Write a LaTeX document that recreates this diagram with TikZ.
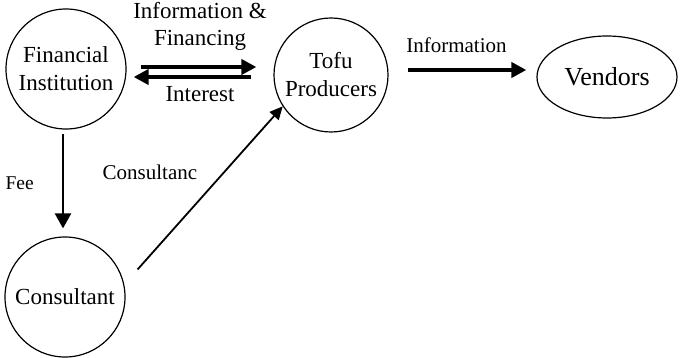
\documentclass[tikz,border=0pt]{standalone}
\usepackage{fontspec}
\setmainfont{Liberation Serif}
\usepackage{tikz}
\usetikzlibrary{arrows.meta, positioning, shapes.geometric}

\begin{document}
\begin{tikzpicture}[
    x=1pt, y=-1pt,
    actor/.style  = {circle, draw, line width=1.2pt, inner sep=0pt,
                     align=center, font=\fontsize{23}{28}\selectfont},
    market/.style = {ellipse, draw, line width=1.2pt, inner sep=0pt,
                     minimum width=140pt, minimum height=82pt,
                     font=\fontsize{26}{30}\selectfont},
    bigarr/.style = {-{Triangle[length=15pt, width=15pt]}, line width=3.8pt},
    feearr/.style = {-{Triangle[length=15pt, width=16pt]}, line width=2.4pt},
    thinarr/.style= {-{Triangle[length=13pt, width=12pt]}, line width=1.8pt},
    labl/.style   = {inner sep=0pt, align=center}
]
\useasboundingbox (0,0) rectangle (680,358);

%% Actors
\node[actor, minimum size=120pt] (fin)    at (66,69)  {Financial\\Institution};
\node[actor, minimum size=114pt] (tofu)   at (331,75) {Tofu\\Producers};
\node[market]                    (vendor) at (607,77) {Vendors};
\node[actor, minimum size=120pt] (cons)   at (65,297) {Consultant};

%% Money and information between bank and producers
\draw[bigarr, shorten <=14pt, shorten >=17pt]
    ([yshift=2pt]fin.east) -- ([yshift=2pt]fin.east -| tofu.west)
    node[labl, midway, above=15pt, font=\fontsize{23}{27}\selectfont]
        {Information \&\\Financing};
\draw[bigarr, shorten <=22pt, shorten >=7pt]
    ([yshift=-8pt]fin.east -| tofu.west) -- ([yshift=-8pt]fin.east)
    node[labl, midway, below=8pt, font=\fontsize{23}{27}\selectfont]
        {Interest};

%% Producers to vendors
\draw[bigarr, shorten <=19pt, shorten >=10pt]
    ([yshift=5pt]tofu.east) -- ([yshift=5pt]tofu.east -| vendor.west)
    node[labl, midway, above=15pt, xshift=-6pt, font=\fontsize{21}{25}\selectfont]
        {Information};

%% Fee and consultancy
\draw[feearr, shorten <=4pt, shorten >=8pt]
    ([xshift=-3pt]fin.south) -- ([xshift=-3pt]fin.south |- cons.north)
    node[labl, midway, left=28pt, font=\fontsize{19.5}{23}\selectfont] {Fee};
\draw[thinarr, shorten <=20pt] (cons.12) -- (tofu.213)
    node[labl, pos=0.63, left=26pt, font=\fontsize{21}{25}\selectfont] {Consultanc};

\end{tikzpicture}
\end{document}
